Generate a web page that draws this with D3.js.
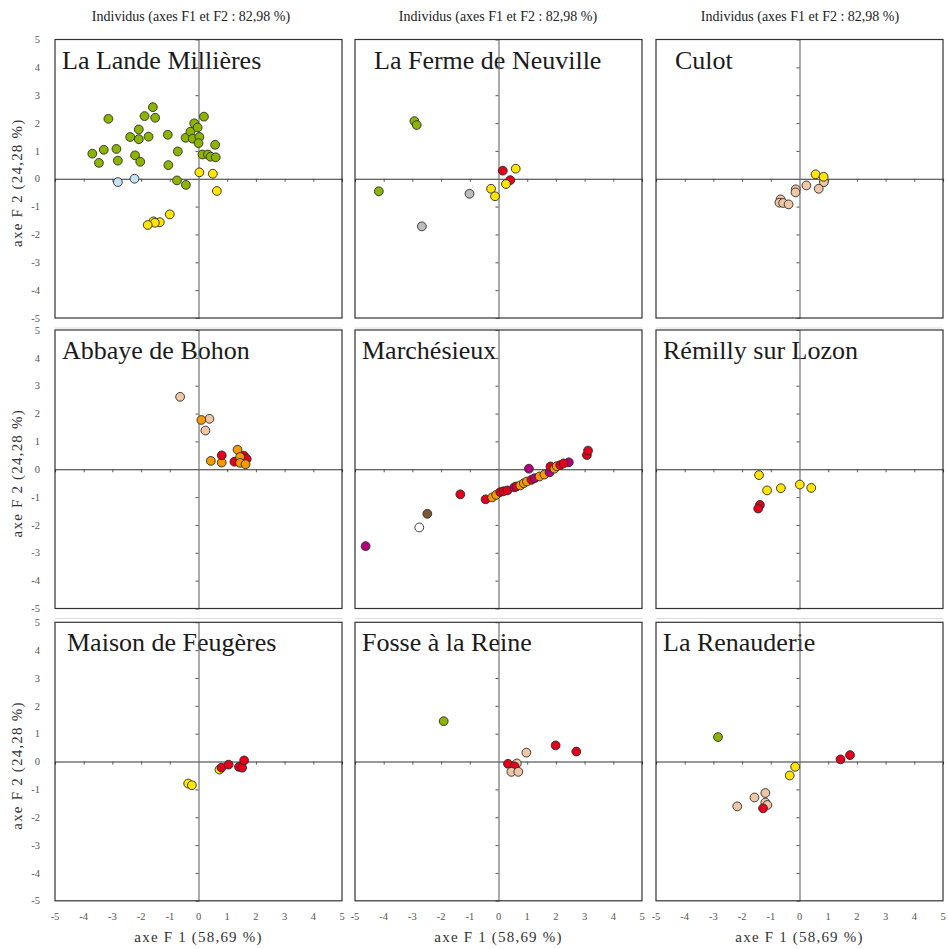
<!DOCTYPE html>
<html>
<head>
<meta charset="utf-8">
<script src="https://cdn.jsdelivr.net/npm/d3@7"></script>
<style>
html,body{margin:0;padding:0;background:#fff;}
svg{display:block;}
</style>
</head>
<body>
<svg id="chart" width="948" height="949"></svg>
<script>
// ---- Data ----
const panelNames = ["La Lande Millières","La Ferme de Neuville","Culot",
  "Abbaye de Bohon","Marchésieux","Rémilly sur Lozon",
  "Maison de Feugères","Fosse à la Reine","La Renauderie"];
const tickValues = [-5,-4,-3,-2,-1,0,1,2,3,4,5];
const topTitle = "Individus (axes F1 et F2 : 82,98 %)";
const xTitle = "axe F 1 (58,69 %)";
const yTitle = "axe F 2 (24,28 %)";

const colorMap = {g:"#8db500", y:"#ffe500", b:"#c6e4f2", s:"#bdbdbd", r:"#e4001b",
  o:"#f59a00", t:"#efc7a6", m:"#b5007d", n:"#7b5a32", w:"#ffffff"};

const ptsLaLande = [
 [-3.70,0.90,"g"],[-3.47,0.57,"g"],[-3.30,1.04,"g"],[-3.14,2.15,"g"],[-2.86,1.07,"g"],
 [-2.81,0.65,"g"],[-2.38,1.50,"g"],[-2.21,0.84,"g"],[-2.08,1.77,"g"],[-2.08,1.42,"g"],
 [-2.03,0.61,"g"],[-1.88,2.25,"g"],[-1.74,1.51,"g"],[-1.59,2.57,"g"],[-1.51,2.19,"g"],
 [-1.07,1.58,"g"],[-1.05,0.49,"g"],[-0.72,0.98,"g"],[-0.75,-0.06,"g"],[-0.44,-0.22,"g"],
 [-0.45,1.47,"g"],[-0.28,1.69,"g"],[-0.20,1.44,"g"],[-0.15,1.99,"g"],[-0.03,1.84,"g"],
 [0.03,1.50,"g"],[0.00,1.28,"g"],[0.19,2.23,"g"],[0.14,0.87,"g"],[0.33,0.87,"g"],
 [0.42,0.79,"g"],[0.58,1.22,"g"],[0.60,0.77,"g"],
 [-2.81,-0.12,"b"],[-2.23,0.00,"b"],
 [0.03,0.23,"y"],[0.50,0.18,"y"],[0.64,-0.44,"y"],[-1.00,-1.28,"y"],[-1.35,-1.56,"y"],
 [-1.57,-1.53,"y"],[-1.52,-1.58,"y"],[-1.77,-1.66,"y"]
];
const ptsFerme = [
 [-2.93,2.07,"g"],[-2.85,1.93,"g"],[-4.17,-0.45,"g"],
 [-1.01,-0.54,"s"],[-2.67,-1.71,"s"],
 [0.15,0.29,"r"],[0.41,-0.05,"r"],
 [-0.26,-0.36,"y"],[-0.12,-0.63,"y"],[0.26,-0.19,"y"],[0.60,0.36,"y"]
];
const ptsCulot = [
 [0.85,-0.12,"t"],[0.67,-0.36,"t"],[0.24,-0.24,"t"],[-0.13,-0.38,"t"],[-0.14,-0.49,"t"],
 [-0.66,-0.74,"t"],[-0.70,-0.86,"t"],[-0.57,-0.87,"t"],[-0.38,-0.92,"t"],
 [0.56,0.16,"y"],[0.84,0.07,"y"]
];
const ptsAbbaye = [
 [-0.64,2.60,"t"],[0.38,1.81,"t"],[0.24,1.39,"t"],
 [0.10,1.77,"o"],[0.43,0.30,"o"],[0.81,0.24,"o"],[1.36,0.70,"o"],
 [0.81,0.50,"r"],[1.25,0.27,"r"],[1.58,0.49,"r"],[1.68,0.37,"r"],
 [1.45,0.44,"o"],[1.45,0.23,"o"],[1.64,0.18,"o"]
];
const ptsMarchesieux = [
 [-4.63,-2.76,"m"],[-2.48,-1.60,"n"],[-2.76,-2.09,"w"],[-1.33,-0.90,"r"],
 [-0.45,-1.08,"r"],[-0.22,-1.01,"o"],[-0.08,-0.92,"o"],[0.06,-0.82,"r"],[0.17,-0.79,"r"],
 [0.31,-0.76,"r"],[0.55,-0.65,"m"],[0.62,-0.62,"r"],[0.76,-0.58,"o"],[0.88,-0.50,"o"],
 [0.99,-0.44,"o"],[1.15,-0.38,"r"],[1.26,-0.32,"m"],[1.43,-0.26,"o"],[1.60,-0.19,"o"],
 [1.06,0.02,"m"],[1.78,-0.11,"m"],[1.81,0.10,"r"],[1.95,0.02,"o"],[2.03,0.11,"o"],
 [2.15,0.15,"r"],[2.45,0.25,"m"],[2.27,0.21,"r"],[3.08,0.51,"r"],[3.12,0.67,"r"]
];
const ptsRemilly = [
 [-1.41,-0.21,"y"],[-1.13,-0.76,"y"],[-0.65,-0.68,"y"],[0.01,-0.55,"y"],[0.41,-0.67,"y"],
 [-1.38,-1.28,"r"],[-1.44,-1.41,"r"]
];
const ptsMaison = [
 [-0.36,-0.79,"y"],[-0.23,-0.85,"y"],[0.73,-0.29,"y"],
 [0.80,-0.22,"r"],[1.05,-0.11,"r"],[1.41,-0.19,"r"],[1.52,-0.22,"r"],[1.59,0.04,"r"]
];
const ptsFosse = [
 [-1.91,1.45,"g"],[0.97,0.32,"t"],[0.64,-0.07,"t"],
 [0.33,-0.08,"r"],[0.56,-0.17,"r"],[1.99,0.58,"r"],[2.71,0.36,"r"],
 [0.45,-0.37,"t"],[0.69,-0.37,"t"]
];
const ptsRenauderie = [
 [-2.84,0.88,"g"],[-0.15,-0.19,"y"],[-0.34,-0.50,"y"],[1.43,0.08,"r"],[1.76,0.23,"r"],
 [-2.17,-1.61,"t"],[-1.57,-1.29,"t"],[-1.19,-1.13,"t"],[-1.19,-1.47,"t"],[-1.12,-1.56,"t"],
 [-1.27,-1.68,"r"]
];
const panelPoints = [ptsLaLande, ptsFerme, ptsCulot, ptsAbbaye, ptsMarchesieux, ptsRemilly,
  ptsMaison, ptsFosse, ptsRenauderie];

// ---- Layout ----
const colX = [55, 355, 656];
const rowY = [39.5, 330, 622.3];
const pw = 287, ph = 278.5;
const titleCx = [191, 498, 800];
const serif = "'Liberation Serif','Times New Roman',serif";

const svg = d3.select("#chart");

// top titles
titleCx.forEach(cx => {
  svg.append("text").attr("x", cx).attr("y", 21).attr("text-anchor","middle")
    .attr("font-family", serif).attr("font-size", 14).attr("fill","#222").text(topTitle);
});

panelNames.forEach((name, i) => {
  const c = i % 3, r = Math.floor(i / 3);
  const x0 = colX[c], y0 = rowY[r];
  const xs = d3.scaleLinear().domain([-5,5]).range([x0, x0 + pw]);
  const ys = d3.scaleLinear().domain([-5,5]).range([y0 + ph, y0]);
  const g = svg.append("g");

  // light grey separator below panel (rows 1-2)
  if (r < 2) {
    g.append("line").attr("x1", x0).attr("x2", x0 + pw)
      .attr("y1", y0 + ph + 10).attr("y2", y0 + ph + 10)
      .attr("stroke", "#dcdcdc").attr("stroke-width", 1);
  }

  // panel label
  g.append("text").attr("x", x0 + (c===0 && r===2 ? 12 : (c===1 && r===0 ? 19 : (c===2 && r===0 ? 19 : 7))))
    .attr("y", y0 + 29).attr("font-family", serif).attr("font-size", 26).attr("fill","#1a1a1a")
    .text(name);

  // zero axes with internal ticks
  const xAxis = d3.axisBottom(xs).tickValues(tickValues).tickSize(3).tickFormat("");
  const yAxis = d3.axisLeft(ys).tickValues(tickValues).tickSize(3).tickFormat("");
  const gx = g.append("g").attr("transform", `translate(0,${ys(0)})`).call(xAxis);
  gx.select(".domain").attr("stroke", "#333").attr("stroke-width", 1.1);
  gx.selectAll(".tick line").attr("stroke", "#555");
  const gy = g.append("g").attr("transform", `translate(${xs(0)},0)`).call(yAxis);
  gy.select(".domain").attr("stroke", "#666").attr("stroke-width", 1.1);
  gy.selectAll(".tick line").attr("stroke", "#555");
  gx.selectAll(".tick").filter(d => d === -5 || d === 5 || d === 0).remove();
  gy.selectAll(".tick").filter(d => d === -5 || d === 5 || d === 0).remove();

  // frame
  g.append("rect").attr("x", x0).attr("y", y0).attr("width", pw).attr("height", ph)
    .attr("fill", "none").attr("stroke", "#333").attr("stroke-width", 1.2);

  // y tick labels (left column)
  if (c === 0) {
    g.selectAll(".ylab").data(tickValues).enter().append("text")
      .attr("x", x0 - 15).attr("y", d => ys(d)).attr("dy", "0.35em")
      .attr("text-anchor", "end").attr("font-family", serif).attr("font-size", 10.5)
      .attr("fill", "#555").text(d => d);
    g.append("text")
      .attr("transform", `translate(22,${y0 + ph/2 + 4}) rotate(-90)`)
      .attr("text-anchor", "middle").attr("font-family", serif).attr("font-size", 15)
      .attr("letter-spacing", 1.2).attr("fill", "#333").text(yTitle);
  }
  // x tick labels (bottom row)
  if (r === 2) {
    g.selectAll(".xlab").data(tickValues).enter().append("text")
      .attr("x", d => xs(d)).attr("y", y0 + ph + 19)
      .attr("text-anchor", "middle").attr("font-family", serif).attr("font-size", 10.5)
      .attr("fill", "#555").text(d => d);
    g.append("text").attr("x", xs(0)).attr("y", y0 + ph + 41)
      .attr("text-anchor", "middle").attr("font-family", serif).attr("font-size", 15)
      .attr("letter-spacing", 1.2).attr("fill", "#333").text(xTitle);
  }

  // points
  g.selectAll("circle").data(panelPoints[i]).enter().append("circle")
    .attr("cx", d => xs(d[0])).attr("cy", d => ys(d[1])).attr("r", 4.4)
    .attr("fill", d => colorMap[d[2]]).attr("stroke", "#2a2a2a").attr("stroke-width", 0.9);
});
</script>
</body>
</html>
